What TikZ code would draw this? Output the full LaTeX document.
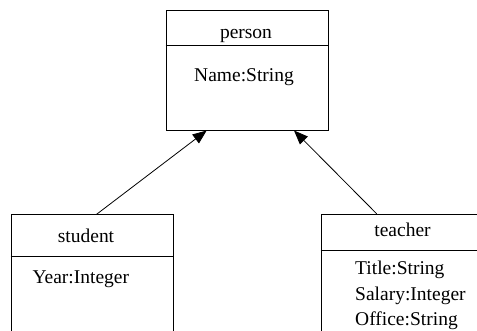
\documentclass[tikz,border=0pt]{standalone}
\usepackage{fontspec}
\setmainfont{Liberation Serif}
\usetikzlibrary{arrows.meta}
\tikzset{
  classbox/.style={draw=black, line width=1pt, rectangle, inner sep=0pt},
  divider/.style={draw=black, line width=1pt},
  classname/.style={anchor=base, inner sep=0pt, font=\fontsize{19.5}{22}\selectfont},
  attr/.style={anchor=base west, inner sep=0pt, font=\fontsize{19.5}{22}\selectfont},
  inherit/.style={draw=black, line width=0.8pt, -{Triangle[length=14pt,width=11pt]}},
}
\begin{document}
\begin{tikzpicture}[x=1pt,y=-1pt]
  \useasboundingbox (0,0) rectangle (477,330);
  \clip (0,0) rectangle (477,330);

  % class boxes
  \node[classbox, minimum width=162pt, minimum height=119.3pt] (person) at (247,70.35) {};
  \node[classbox, minimum width=162pt, minimum height=140pt] (student) at (92,284.7) {};
  \node[classbox, minimum width=169pt, minimum height=140pt] (teacher) at (405.5,284.3) {};

  % compartment dividers
  \draw[divider] (person.west |- 0,45.7) -- (person.east |- 0,45.7);
  \draw[divider] (student.west |- 0,256.7) -- (student.east |- 0,256.7);
  \draw[divider] (teacher.west |- 0,250.7) -- (teacher.east |- 0,250.7);

  % class names
  \node[classname] (personname) at (246,38.3) {person};
  \node[classname] (studentname) at (86,242.7) {student};
  \node[classname] (teachername) at (402.5,236) {teacher};

  % attributes
  \node[attr] (pname) at (194,81.7) {Name:String};
  \node[attr] (syear) at (32.3,283.3) {Year:Integer};
  \node[attr] (ttitle) at (355,274) {Title:String};
  \node[attr] (tsalary) at (355,300) {Salary:Integer};
  \node[attr] (toffice) at (355,325.7) {Office:String};

  % generalisation arrows
  \draw[inherit] ([xshift=4.7pt]student.north) -- ([xshift=-40.3pt]person.south);
  \draw[inherit] ([xshift=-28.8pt]teacher.north) -- ([xshift=47pt]person.south);
\end{tikzpicture}
\end{document}
